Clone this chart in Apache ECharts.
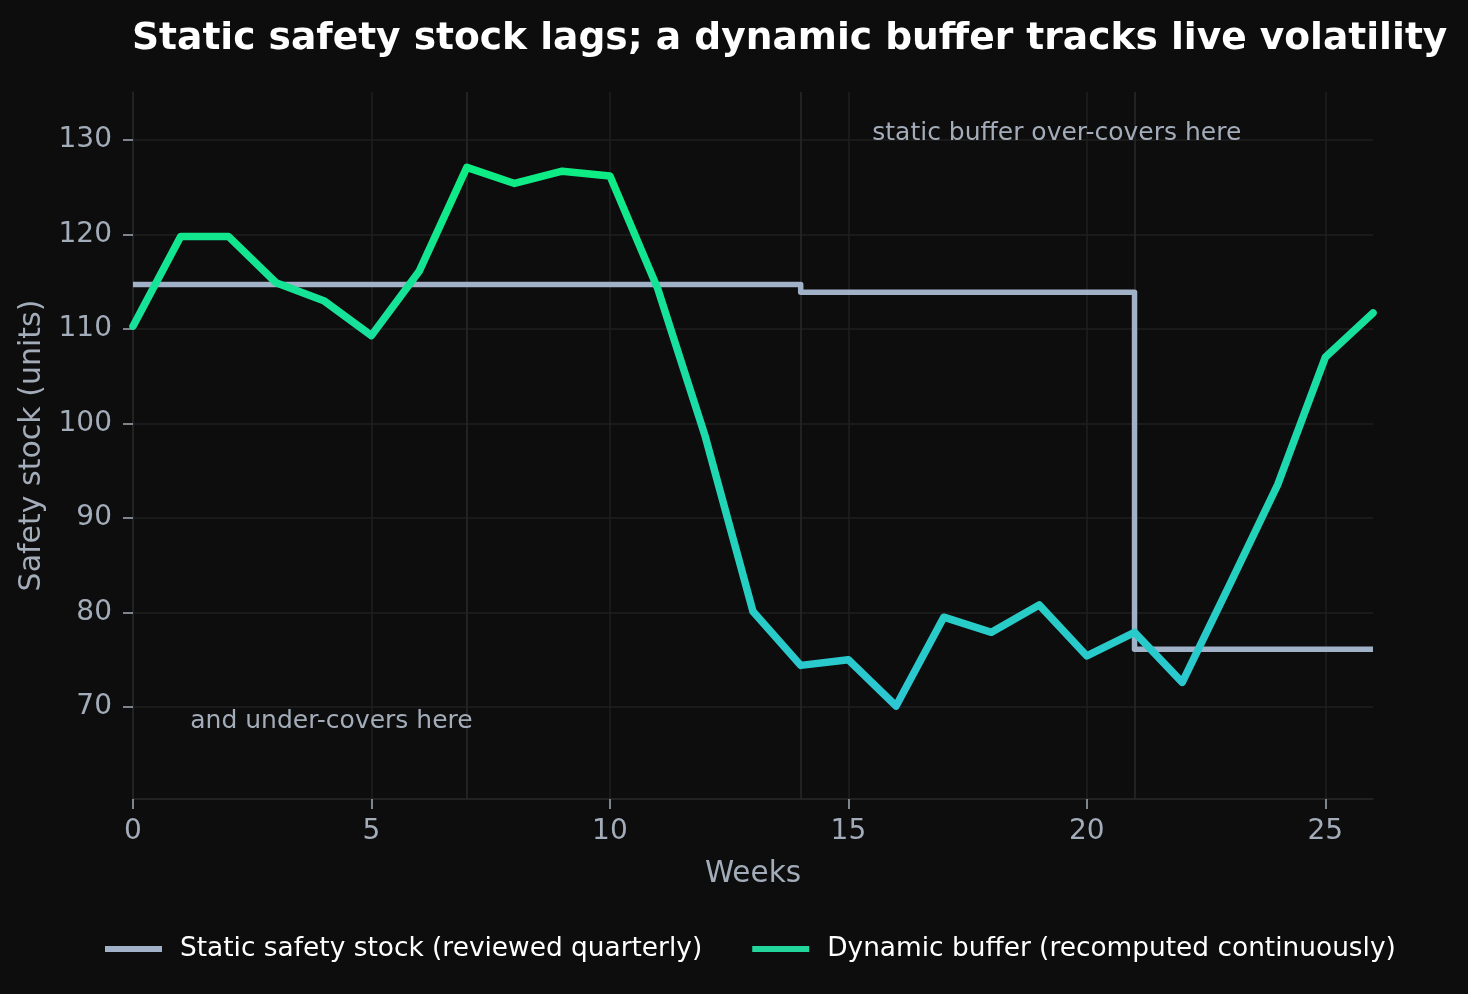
<!DOCTYPE html>
<html>
<head>
<meta charset="utf-8">
<script src="https://cdn.jsdelivr.net/npm/echarts@6/dist/echarts.min.js"></script>
<style>
html,body{margin:0;padding:0;background:#0d0d0d;}
#chart{width:1468px;height:994px;}
</style>
</head>
<body>
<div id="chart"></div>
<script>
// ---- data ----
const weeks = [0,1,2,3,4,5,6,7,8,9,10,11,12,13,14,15,16,17,18,19,20,21,22,23,24,25,26];
const staticStock = [114.7,114.7,114.7,114.7,114.7,114.7,114.7,114.7,114.7,114.7,114.7,114.7,114.7,114.7,
                     113.9,113.9,113.9,113.9,113.9,113.9,113.9,
                     76.1,76.1,76.1,76.1,76.1,76.1];
const dynamicBuffer = [110.3,119.8,119.8,114.9,113.0,109.3,116.1,127.1,125.4,126.7,126.2,114.3,98.6,80.1,
                       74.4,75.0,70.1,79.5,77.9,80.8,75.4,77.9,72.6,83.0,93.5,107.0,111.7];
const xTicks = [0,5,10,15,20,25];
const yTicks = [70,80,90,100,110,120,130];
const reviewWeeks = [7,14,21];
const seriesNames = ['Static safety stock (reviewed quarterly)', 'Dynamic buffer (recomputed continuously)'];
const titleText = 'Static safety stock lags; a dynamic buffer tracks live volatility';
const notes = [
  {text: 'static buffer over-covers here', x: 15.5, y: 130.7},
  {text: 'and under-covers here', x: 1.2, y: 68.5}
];

const FONT = 'DejaVu Sans';
const TICK = '#a3acb9';
const GRIDC = '#1f1f1f';
const chart = echarts.init(document.getElementById('chart'), null, {renderer: 'canvas'});

const option = {
  backgroundColor: '#0d0d0d',
  animation: false,
  textStyle: {fontFamily: FONT},
  title: {
    text: titleText, left: 132, top: 20, padding: 0,
    textStyle: {color: '#ffffff', fontSize: 37.6, fontWeight: 'bold', fontFamily: FONT}
  },
  grid: {left: 133, right: 95, top: 92, bottom: 195, containLabel: false},
  legend: {
    left: 105, top: 936, padding: 0, itemGap: 50, itemWidth: 57, itemHeight: 6, icon: 'rect',
    textStyle: {color: '#ffffff', fontSize: 26.4, fontFamily: FONT, padding: [0,0,0,13]},
    data: seriesNames
  },
  visualMap: {
    show: false, type: 'continuous', seriesIndex: 1, dimension: 1,
    min: 70, max: 127, inRange: {color: ['#2cc6d4', '#0eec84']}
  },
  xAxis: {
    type: 'value', min: 0, max: 26, interval: 5,
    name: 'Weeks', nameLocation: 'middle', nameGap: 60,
    nameTextStyle: {color: TICK, fontSize: 29.5, fontFamily: FONT},
    axisLine: {show: true, lineStyle: {color: '#2a2a2a', width: 1.5}},
    axisTick: {show: true, length: 10, customValues: xTicks, lineStyle: {color: TICK, width: 1.5}},
    axisLabel: {color: TICK, fontSize: 28, fontFamily: FONT, margin: 19, customValues: xTicks},
    splitLine: {show: false}
  },
  yAxis: {
    type: 'value', min: 60.26, max: 135.08,
    name: 'Safety stock (units)', nameLocation: 'middle', nameGap: 82, nameRotate: 90,
    nameTextStyle: {color: TICK, fontSize: 30, fontFamily: FONT},
    axisLine: {show: true, lineStyle: {color: '#2a2a2a', width: 1.5}},
    axisTick: {show: true, length: 10, customValues: yTicks, lineStyle: {color: TICK, width: 1.5}},
    axisLabel: {color: TICK, fontSize: 28, fontFamily: FONT, margin: 21, customValues: yTicks},
    splitLine: {show: false}
  },
  series: [
    {
      name: seriesNames[0], type: 'line', step: 'end', z: 3,
      data: weeks.map((w, i) => [w, staticStock[i]]),
      showSymbol: false, symbol: 'none',
      lineStyle: {color: '#a0b1c8', width: 5.5, cap: 'butt', join: 'round'},
      itemStyle: {color: '#a0b1c8'},
      markLine: {
        silent: true, symbol: ['none','none'], label: {show: false}, z: 1,
        lineStyle: {type: 'solid', color: GRIDC, width: 1.5},
        data: yTicks.map(v => ({yAxis: v})).concat(xTicks.filter(v => v > 0).map(v => ({xAxis: v})))
      }
    },
    {
      name: seriesNames[1], type: 'line', z: 4,
      data: weeks.map((w, i) => [w, dynamicBuffer[i]]),
      showSymbol: false, symbol: 'none',
      lineStyle: {width: 7.5, cap: 'round', join: 'round'},
      itemStyle: {color: '#22d59a'},
      markLine: {
        silent: true, symbol: ['none','none'], label: {show: false}, z: 1,
        lineStyle: {type: 'solid', color: '#252525', width: 1.8},
        data: reviewWeeks.map(v => ({xAxis: v}))
      }
    }
  ]
};
chart.setOption(option);

function placeNotes() {
  const els = notes.map(n => {
    const p = chart.convertToPixel({gridIndex: 0}, [n.x, n.y]);
    return {
      type: 'text', x: p[0], y: p[1], z: 10,
      style: {text: n.text, fill: TICK, font: '25px "DejaVu Sans"', textAlign: 'left', textVerticalAlign: 'middle'}
    };
  });
  chart.setOption({graphic: els});
}
placeNotes();
</script>
</body>
</html>
